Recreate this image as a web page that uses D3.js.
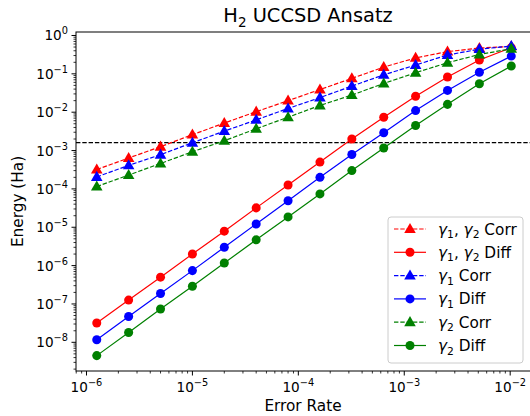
<!DOCTYPE html>
<html><head><meta charset="utf-8">
<script src="https://cdn.jsdelivr.net/npm/d3@7"></script>
<style>body{margin:0;background:#fff}text{font-family:"DejaVu Sans",sans-serif;fill:#000}</style>
</head><body><svg id="c" width="530" height="416"></svg>
<script>
const errorRates = [1.25e-6,2.5e-6,5e-6,1e-5,2e-5,4e-5,8e-5,1.6e-4,3.2e-4,6.4e-4,1.28e-3,2.56e-3,5.12e-3,1.024e-2];
const redCorr   = [3.2e-4,6.4e-4,1.26e-3,2.6e-3,5.2e-3,1.03e-2,2.0e-2,3.9e-2,7.6e-2,0.15,0.26,0.38,0.47,0.52];
const redDiff   = [3.2e-8,1.26e-7,5e-7,2e-6,7.9e-6,3.2e-5,1.26e-4,5e-4,2e-3,7.4e-3,0.026,0.083,0.23,0.48];
const blueCorr  = [2.05e-4,4.1e-4,7.8e-4,1.6e-3,3.2e-3,6.3e-3,1.25e-2,2.4e-2,4.8e-2,9.4e-2,0.17,0.31,0.44,0.53];
const blueDiff  = [1.17e-8,4.7e-8,1.87e-7,7.4e-7,3e-6,1.22e-5,4.9e-5,2e-4,7.9e-4,2.9e-3,0.011,0.037,0.11,0.29];
const greenCorr = [1.15e-4,2.3e-4,4.6e-4,9.3e-4,1.8e-3,3.7e-3,7.4e-3,1.5e-2,2.8e-2,5.6e-2,0.107,0.195,0.32,0.45];
const greenDiff = [4.5e-9,1.8e-8,7.4e-8,2.9e-7,1.17e-6,4.7e-6,1.86e-5,7.4e-5,3e-4,1.17e-3,4.5e-3,0.016,0.055,0.16];
const chemAccuracy = 1.6e-3;
const xTickExps = [-6,-5,-4,-3,-2];
const yTickExps = [0,-1,-2,-3,-4,-5,-6,-7,-8];

const series = [
  {vals:redCorr, color:"red", dashed:true, marker:"tri", label:[["γ","1"],["γ","2"]], word:"Corr"},
  {vals:redDiff, color:"red", dashed:false, marker:"circle", label:[["γ","1"],["γ","2"]], word:"Diff"},
  {vals:blueCorr, color:"blue", dashed:true, marker:"tri", label:[["γ","1"]], word:"Corr"},
  {vals:blueDiff, color:"blue", dashed:false, marker:"circle", label:[["γ","1"]], word:"Diff"},
  {vals:greenCorr, color:"green", dashed:true, marker:"tri", label:[["γ","2"]], word:"Corr"},
  {vals:greenDiff, color:"green", dashed:false, marker:"circle", label:[["γ","2"]], word:"Diff"}
];

const L=76, R=532, T=32, B=371;
const svg = d3.select("#c");
const x = d3.scaleLog().domain([Math.pow(10,-6.099), Math.pow(10,-1.794)]).range([L,R]);
const y = d3.scaleLog().domain([Math.pow(10,-8.748), Math.pow(10,0.091)]).range([B,T]);
const FS = 13.6, LFS = 15.3;

svg.append("defs").append("clipPath").attr("id","clip").append("rect").attr("x",L).attr("y",T).attr("width",R-L).attr("height",B-T);

svg.append("line").attr("x1",L).attr("x2",R).attr("y1",y(chemAccuracy)).attr("y2",y(chemAccuracy))
  .attr("stroke","black").attr("stroke-width",1.2).attr("stroke-dasharray","4.4,1.9");

const sym = {tri: d3.symbol().type(d3.symbolTriangle).size(58), circle: d3.symbol().type(d3.symbolCircle).size(64)};
function drawMarker(g, type, cx, cy, color){
  g.append("path").attr("d", sym[type]()).attr("transform",`translate(${cx},${cy + (type==="tri"?0.6:0)})`).attr("fill",color);
}
const plot = svg.append("g").attr("clip-path","url(#clip)");
series.forEach(s=>{
  const line = d3.line().x((d,i)=>x(errorRates[i])).y(d=>y(d));
  plot.append("path").datum(s.vals).attr("d",line).attr("fill","none").attr("stroke",s.color)
    .attr("stroke-width",1.2).attr("stroke-dasharray", s.dashed?"4.4,1.9":null);
  s.vals.forEach((v,i)=>drawMarker(plot, s.marker, x(errorRates[i]), y(v), s.color));
});

svg.append("rect").attr("x",L).attr("y",T).attr("width",R-L).attr("height",B-T).attr("fill","none").attr("stroke","black").attr("stroke-width",1);

const xMinor=[];
for(let e=-7;e<=-1;e++) for(let m=2;m<=9;m++){const v=m*Math.pow(10,e); if(x(v)>=L&&x(v)<=R) xMinor.push(v);}
xMinor.forEach(v=>svg.append("line").attr("x1",x(v)).attr("x2",x(v)).attr("y1",B).attr("y2",B+2.5).attr("stroke","black").attr("stroke-width",0.8));
xTickExps.forEach(e=>{
  const v=Math.pow(10,e), px=x(v);
  svg.append("line").attr("x1",px).attr("x2",px).attr("y1",B).attr("y2",B+4.5).attr("stroke","black").attr("stroke-width",1);
  const t=svg.append("text").attr("x",px).attr("y",B+20.5).attr("text-anchor","middle").attr("font-size",FS);
  t.append("tspan").text("10");
  t.append("tspan").attr("dy",-6).attr("font-size",FS*0.72).text("−"+(-e));
});
const yMinor=[];
for(let e=-9;e<=0;e++) for(let m=2;m<=9;m++){const v=m*Math.pow(10,e); if(y(v)>=T&&y(v)<=B) yMinor.push(v);}
yMinor.forEach(v=>svg.append("line").attr("x1",L-2.5).attr("x2",L).attr("y1",y(v)).attr("y2",y(v)).attr("stroke","black").attr("stroke-width",0.8));
yTickExps.forEach(e=>{
  const v=Math.pow(10,e), py=y(v);
  svg.append("line").attr("x1",L-4.5).attr("x2",L).attr("y1",py).attr("y2",py).attr("stroke","black").attr("stroke-width",1);
  const t=svg.append("text").attr("x",L-8).attr("y",py+5).attr("text-anchor","end").attr("font-size",FS);
  t.append("tspan").text("10");
  t.append("tspan").attr("dy",-6).attr("font-size",FS*0.72).text(e===0?"0":"−"+(-e));
});

svg.append("text").attr("x",(L+R)/2 - 1).attr("y",411).attr("text-anchor","middle").attr("font-size",LFS).text("Error Rate");
svg.append("text").attr("transform",`translate(22.5,${(T+B)/2}) rotate(-90)`).attr("text-anchor","middle").attr("font-size",LFS).text("Energy (Ha)");
const title=svg.append("text").attr("x",(L+R)/2+4).attr("y",22).attr("text-anchor","middle").attr("font-size",19.4);
title.append("tspan").text("H");
title.append("tspan").attr("dy",4.5).attr("font-size",13.5).text("2");
title.append("tspan").attr("dy",-4.5).text(" UCCSD Ansatz");

const lg = svg.append("g");
lg.append("rect").attr("x",388).attr("y",217).attr("width",135).attr("height",146).attr("rx",3)
  .attr("fill","white").attr("fill-opacity",0.8).attr("stroke","#cccccc").attr("stroke-width",1);
series.forEach((s,i)=>{
  const cy=229+i*23.3;
  lg.append("line").attr("x1",394).attr("x2",426).attr("y1",cy).attr("y2",cy).attr("stroke",s.color).attr("stroke-width",1.2)
    .attr("stroke-dasharray", s.dashed?"4.4,1.9":null);
  drawMarker(lg, s.marker, 410, cy, s.color);
  const t=lg.append("text").attr("x",438).attr("y",cy+5.5).attr("font-size",LFS);
  let pendingDy = 0;
  s.label.forEach((p,j)=>{
    if(j>0) t.append("tspan").attr("dy",pendingDy).text(", "), pendingDy=0;
    t.append("tspan").attr("dy",pendingDy).attr("font-style","italic").text(p[0]);
    t.append("tspan").attr("dy",3.5).attr("font-size",LFS*0.7).text(p[1]);
    pendingDy = -3.5;
  });
  t.append("tspan").attr("dy",pendingDy).text(" "+s.word);
});
</script></body></html>
